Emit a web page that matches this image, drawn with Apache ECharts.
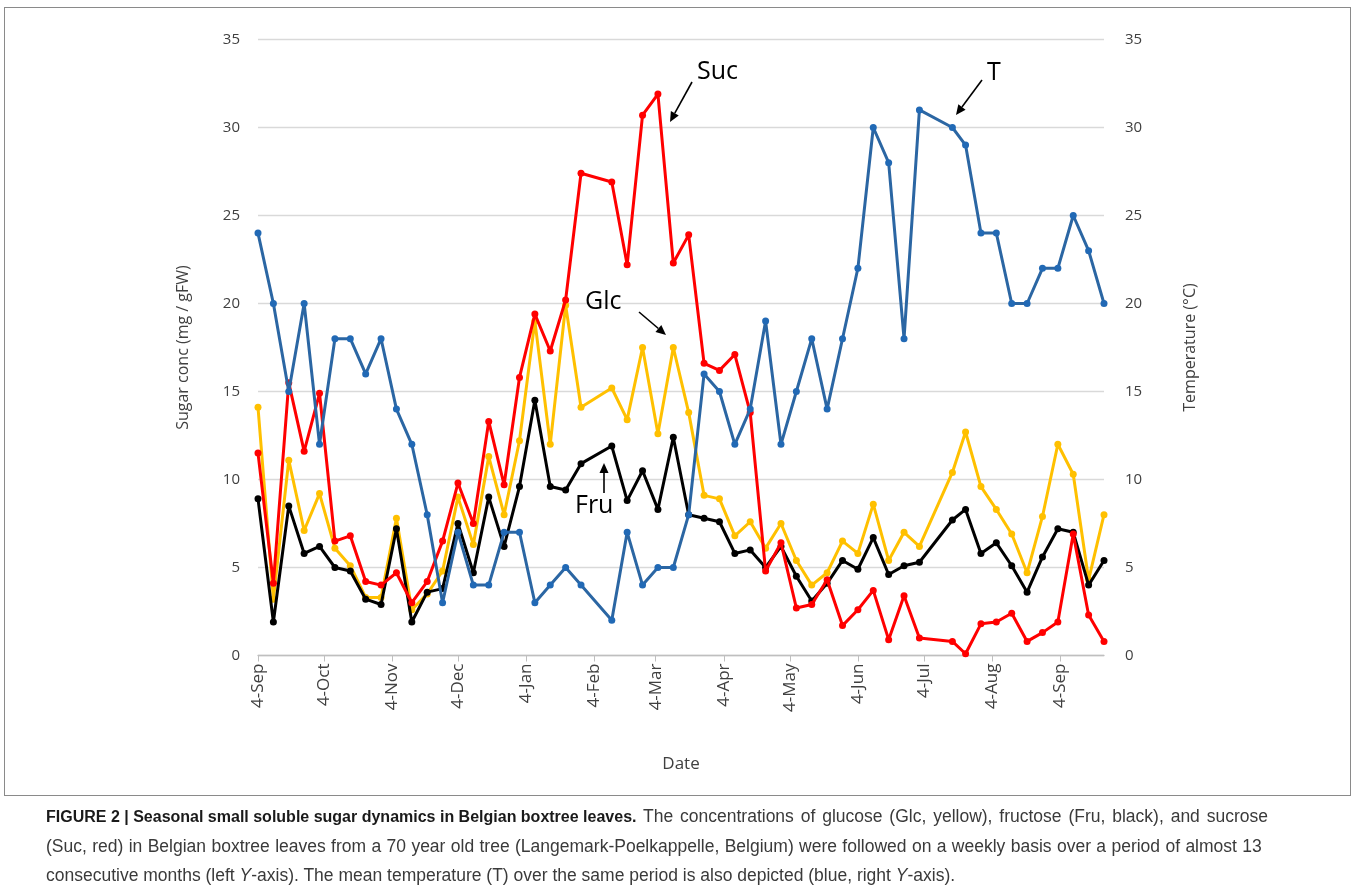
<!DOCTYPE html>
<html><head><meta charset="utf-8">
<script src="https://cdn.jsdelivr.net/npm/echarts@6/dist/echarts.min.js"></script>
<style>
html,body{margin:0;padding:0;background:#fff;}
#chart{position:absolute;left:0;top:0;width:1357px;height:891px;}
#frame{position:absolute;left:4px;top:7px;width:1347px;height:789px;border:1px solid #8a8a8a;box-sizing:border-box;pointer-events:none}
#caption{position:absolute;left:46px;top:802px;width:1310px;font-family:"Liberation Sans",Arial,sans-serif;font-size:17.5px;line-height:29.5px;color:#3a3a3a;white-space:nowrap}
#caption b{color:#1a1a1a;font-size:16px}
#l1{word-spacing:2px}
#l2{word-spacing:0.5px}
</style></head>
<body>
<div id="chart"></div><div id="frame"></div>
<div id="caption"><b>FIGURE 2 | Seasonal small soluble sugar dynamics in Belgian boxtree leaves.</b><span id="l1"> The concentrations of glucose (Glc, yellow), fructose (Fru, black), and sucrose</span><br><span id="l2">(Suc, red) in Belgian boxtree leaves from a 70 year old tree (Langemark-Poelkappelle, Belgium) were followed on a weekly basis over a period of almost 13</span><br>consecutive months (left <i>Y</i>-axis). The mean temperature (T) over the same period is also depicted (blue, right <i>Y</i>-axis).</div>
<script>
// ---- data ----
const sampleDates = ['2012-09-04','2012-09-11','2012-09-18','2012-09-25','2012-10-02','2012-10-09','2012-10-16','2012-10-23','2012-10-30',
'2012-11-06','2012-11-13','2012-11-20','2012-11-27','2012-12-04','2012-12-11','2012-12-18','2012-12-25','2013-01-01','2013-01-08',
'2013-01-15','2013-01-22','2013-01-29','2013-02-12','2013-02-19','2013-02-26','2013-03-05','2013-03-12','2013-03-19','2013-03-26',
'2013-04-02','2013-04-09','2013-04-16','2013-04-23','2013-04-30','2013-05-07','2013-05-14','2013-05-21','2013-05-28','2013-06-04',
'2013-06-11','2013-06-18','2013-06-25','2013-07-02','2013-07-17','2013-07-23','2013-07-30','2013-08-06','2013-08-13','2013-08-20',
'2013-08-27','2013-09-03','2013-09-10','2013-09-17','2013-09-24'];
const glc = [14.1,3.2,11.1,7.1,9.2,6.1,5.1,3.3,3.3,7.8,2.6,3.5,4.8,9.0,6.3,11.3,8.0,12.2,19.0,12.0,19.9,14.1,15.2,13.4,17.5,12.6,17.5,13.8,
9.1,8.9,6.8,7.6,6.1,7.5,5.4,4.0,4.7,6.5,5.8,8.6,5.4,7.0,6.2,10.4,12.7,9.6,8.3,6.9,4.7,7.9,12.0,10.3,4.3,8.0];
const fru = [8.9,1.9,8.5,5.8,6.2,5.0,4.8,3.2,2.9,7.2,1.9,3.6,3.8,7.5,4.7,9.0,6.2,9.6,14.5,9.6,9.4,10.9,11.9,8.8,10.5,8.3,12.4,8.0,
7.8,7.6,5.8,6.0,5.0,6.2,4.5,3.1,4.1,5.4,4.9,6.7,4.6,5.1,5.3,7.7,8.3,5.8,6.4,5.1,3.6,5.6,7.2,7.0,4.0,5.4];
const suc = [11.5,4.1,15.5,11.6,14.9,6.5,6.8,4.2,4.0,4.7,3.0,4.2,6.5,9.8,7.5,13.3,9.7,15.8,19.4,17.3,20.2,27.4,26.9,22.2,30.7,31.9,22.3,23.9,
16.6,16.2,17.1,13.8,4.8,6.4,2.7,2.9,4.3,1.7,2.6,3.7,0.9,3.4,1.0,0.8,0.1,1.8,1.9,2.4,0.8,1.3,1.9,6.9,2.3,0.8];
const temp = [24,20,15,20,12,18,18,16,18,14,12,8,3,7,4,4,7,7,3,4,5,4,2,7,4,5,5,8,
16,15,12,14,19,12,15,18,14,18,22,30,28,18,31,30,29,24,24,20,20,22,22,25,23,20];
const tickDates = ['2012-09-04','2012-10-04','2012-11-04','2012-12-04','2013-01-04','2013-02-04','2013-03-04','2013-04-04',
'2013-05-04','2013-06-04','2013-07-04','2013-08-04','2013-09-04'];
const tickLabels = ['4-Sep','4-Oct','4-Nov','4-Dec','4-Jan','4-Feb','4-Mar','4-Apr','4-May','4-Jun','4-Jul','4-Aug','4-Sep'];

// ---- helpers ----
const origin = Date.UTC(2012,8,4);
function dayOf(s){const p=s.split('-').map(Number);return Math.round((Date.UTC(p[0],p[1]-1,p[2])-origin)/86400000);}
const xs = sampleDates.map(dayOf);
const tickX = tickDates.map(dayOf);
const pairs = v => xs.map((x,i)=>[x,v[i]]);

const FONT = '"Open Sans", "Noto Sans", sans-serif';
const chart = echarts.init(document.getElementById('chart'), null, {renderer:'canvas'});

function arrow(x1,y1,x2,y2){
  const a=Math.atan2(y2-y1,x2-x1), L=10, W=4.5;
  const bx=x2-L*Math.cos(a), by=y2-L*Math.sin(a);
  const nx=-Math.sin(a), ny=Math.cos(a);
  return [
    {type:'line',shape:{x1:x1,y1:y1,x2:bx,y2:by},style:{stroke:'#000',lineWidth:1.6},z:100},
    {type:'polygon',shape:{points:[[x2,y2],[bx+nx*W,by+ny*W],[bx-nx*W,by-ny*W]]},style:{fill:'#000'},z:100}
  ];
}
function label(t,x,y){return {type:'text',x:x,y:y,style:{text:t,font:'25px '+FONT,fill:'#000',textAlign:'left',textVerticalAlign:'middle'},z:100};}

const mk = (name,data,color,mcolor,yi,z)=>({
  name:name,type:'line',data:pairs(data),yAxisIndex:yi,symbol:'circle',symbolSize:7,
  lineStyle:{color:color,width:3},itemStyle:{color:mcolor},z:z,animation:false
});

const yAx = (pos,name,gap,split,margin)=>({
  type:'value',position:pos,min:0,max:35,interval:5,
  name:name,nameLocation:'middle',nameGap:gap,nameRotate:90,
  nameTextStyle:{fontFamily:FONT,fontSize:16,color:'#404040'},
  axisLine:{show:false},axisTick:{show:false},
  axisLabel:{fontFamily:FONT,fontSize:15,color:'#404040',margin:margin},
  splitLine:{show:split,lineStyle:{color:'#d9d9d9',width:1.3}}
});

chart.setOption({
  animation:false,
  grid:{left:258,right:253,top:39.5,bottom:235.5,containLabel:false},
  xAxis:{
    type:'value',min:0,max:xs[xs.length-1],
    name:'Date',nameLocation:'middle',nameGap:100,
    nameTextStyle:{fontFamily:FONT,fontSize:17,color:'#404040'},
    axisLine:{show:true,lineStyle:{color:'#bfbfbf',width:1.3}},
    axisTick:{show:true,customValues:tickX,length:6,inside:false,lineStyle:{color:'#bfbfbf'}},
    axisLabel:{customValues:tickX,rotate:90,fontFamily:FONT,fontSize:17,color:'#404040',margin:8,
      formatter:v=>{const i=tickX.indexOf(v);return i>=0?tickLabels[i]:'';}},
    splitLine:{show:false}
  },
  yAxis:[yAx('left','Sugar conc (mg / gFW)',67,true,18), yAx('right','Temperature (°C)',78,false,21)],
  series:[
    mk('Glc',glc,'#FFC000','#FFC000',0,2),
    mk('Fru',fru,'#000000','#000000',0,3),
    mk('Suc',suc,'#FF0000','#FF0000',0,4),
    mk('T',temp,'#2B66A3','#2169B5',1,5)
  ],
  graphic:[].concat(
    [label('Suc',697,72), label('T',987,73), label('Glc',585,302), label('Fru',575,506)],
    arrow(692,82,670,122), arrow(982,80,956,115), arrow(639,312,666,335), arrow(604,493,604,463)
  )
});
</script>
</body></html>
